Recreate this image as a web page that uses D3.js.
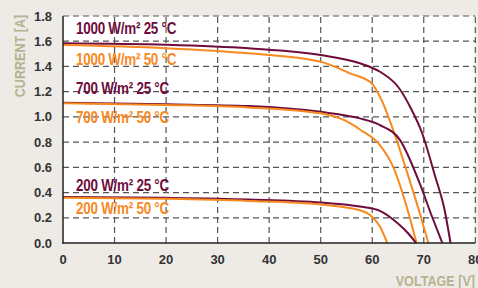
<!DOCTYPE html>
<html>
<head>
<meta charset="utf-8">
<script src="https://cdn.jsdelivr.net/npm/d3@7"></script>
<style>
  html, body { margin: 0; padding: 0; background: #eeebe7; }
  svg { display: block; }
</style>
</head>
<body>
<svg></svg>
<script>
const width = 478
const height = 288
const marge = {top: 16, right: 3, bottom: 45, left: 63}

// 数据：电压 [V] 与电流 [A]
const voltage_1000_25 = [0, 20, 36, 50, 57.6, 61.5, 65, 67.6, 69.6, 72.2, 74, 75.2]
const current_1000_25 = [1.584, 1.572, 1.544, 1.491, 1.425, 1.358, 1.239, 1.06, 0.88, 0.53, 0.27, 0]

const voltage_1000_50 = [0, 20, 36, 50, 55.7, 59.8, 61.8, 64.7, 67, 69.2, 70.9]
const current_1000_50 = [1.57, 1.545, 1.504, 1.438, 1.345, 1.27, 1.134, 0.82, 0.53, 0.24, 0]

const voltage_700_25 = [0, 20, 36, 50, 57.6, 61.5, 65.4, 69.2, 71.5, 73.6]
const current_700_25 = [1.112, 1.1, 1.086, 1.04, 0.988, 0.935, 0.816, 0.474, 0.22, 0]

const voltage_700_50 = [0, 20, 36, 50, 55.7, 57.6, 61.5, 64.1, 66.7, 68.6]
const current_700_50 = [1.108, 1.095, 1.075, 1.028, 0.95, 0.9, 0.776, 0.6, 0.286, 0]

const voltage_200_25 = [0, 20, 36, 50, 57.6, 61.5, 65, 67, 68.5]
const current_200_25 = [0.365, 0.358, 0.345, 0.321, 0.29, 0.255, 0.154, 0.075, 0]

const voltage_200_50 = [0, 20, 36, 50, 57.6, 59.8, 61.5, 62.9]
const current_200_50 = [0.358, 0.35, 0.333, 0.305, 0.26, 0.215, 0.13, 0]

const series = [
    {name: "1000 W/m² 25 °C", v: voltage_1000_25, i: current_1000_25, color: "#6e0d3c", labelI: 1.655},
    {name: "1000 W/m² 50 °C", v: voltage_1000_50, i: current_1000_50, color: "#f7891f", labelI: 1.412},
    {name: "700 W/m² 25 °C", v: voltage_700_25, i: current_700_25, color: "#6e0d3c", labelI: 1.18},
    {name: "700 W/m² 50 °C", v: voltage_700_50, i: current_700_50, color: "#f7891f", labelI: 0.948},
    {name: "200 W/m² 25 °C", v: voltage_200_25, i: current_200_25, color: "#6e0d3c", labelI: 0.413},
    {name: "200 W/m² 50 °C", v: voltage_200_50, i: current_200_50, color: "#f7891f", labelI: 0.227}
]

const xTicks = [0, 10, 20, 30, 40, 50, 60, 70, 80]
const yTicks = [0, 0.2, 0.4, 0.6, 0.8, 1.0, 1.2, 1.4, 1.6, 1.8]

const svg = d3.select('svg').attr('width', width).attr('height', height)

const x = d3.scaleLinear().domain([0, 80]).range([marge.left, width - marge.right + 0.3])
const y = d3.scaleLinear().domain([0, 1.8]).range([height - marge.bottom, marge.top])

// 绘图区背景
svg.append('rect')
    .attr('x', x(0)).attr('y', y(1.8))
    .attr('width', x(80) - x(0)).attr('height', y(0) - y(1.8))
    .attr('fill', '#ffffff')

// 网格
const grid = svg.append('g')
grid.selectAll('.hgrid').data(yTicks.filter(d => d > 0)).enter().append('line')
    .attr('x1', x(0)).attr('x2', x(80))
    .attr('y1', d => y(d)).attr('y2', d => y(d))
    .attr('stroke', '#555').attr('stroke-width', 1.2).attr('stroke-dasharray', '6,4')
grid.selectAll('.vgrid').data(xTicks.filter(d => d > 0)).enter().append('line')
    .attr('x1', d => x(d)).attr('x2', d => x(d))
    .attr('y1', y(0)).attr('y2', y(1.8))
    .attr('stroke', '#555').attr('stroke-width', 1.2).attr('stroke-dasharray', '6,4')

// 曲线
const line = d3.line()
    .x(d => x(d[0]))
    .y(d => y(d[1]))
    .curve(d3.curveMonotoneX)

svg.append('g').selectAll('path').data(series).enter().append('path')
    .attr('d', d => line(d.v.map((v, k) => [v, d.i[k]])))
    .attr('fill', 'none')
    .attr('stroke', d => d.color)
    .attr('stroke-width', 2)

// 曲线标签（窄体效果：横向压缩）
svg.append('g').selectAll('text').data(series).enter().append('text')
    .attr('transform', d => 'translate(' + (x(0) + 13) + ',' + y(d.labelI) + ') scale(0.84,1)')
    .attr('fill', d => d.color)
    .style('font-family', '"Liberation Sans", Arial, sans-serif')
    .style('font-weight', 'bold')
    .style('font-size', '16px')
    .style('letter-spacing', '-0.3px')
    .text(d => d.name)

// 坐标轴
svg.append('line')
    .attr('x1', x(0)).attr('x2', x(0)).attr('y1', y(0) + 0.5).attr('y2', y(1.8))
    .attr('stroke', '#222').attr('stroke-width', 1.5)
svg.append('line')
    .attr('x1', x(0) - 0.7).attr('x2', x(80)).attr('y1', y(0)).attr('y2', y(0))
    .attr('stroke', '#222').attr('stroke-width', 1.5)

const tickFont = 'Liberation Sans, Arial, sans-serif'

svg.append('g').selectAll('text').data(yTicks).enter().append('text')
    .attr('x', 52)
    .attr('y', d => y(d) + 4.5)
    .attr('text-anchor', 'end')
    .attr('fill', '#333')
    .style('font-family', tickFont)
    .style('font-weight', 'bold')
    .style('font-size', '13px')
    .text(d => d3.format('.1f')(d))

svg.append('g').selectAll('text').data(xTicks).enter().append('text')
    .attr('x', d => x(d))
    .attr('y', 263.5)
    .attr('text-anchor', 'middle')
    .attr('fill', '#333')
    .style('font-family', tickFont)
    .style('font-weight', 'bold')
    .style('font-size', '13px')
    .text(d => d)

// 坐标轴标题
svg.append('text')
    .attr('transform', 'translate(25,56) rotate(-90) scale(0.84,1)')
    .attr('text-anchor', 'middle')
    .attr('fill', '#b7b38f')
    .style('font-family', '"Liberation Sans", Arial, sans-serif')
    .style('font-weight', 'bold')
    .style('font-size', '15px')
    .text('CURRENT [A]')

svg.append('text')
    .attr('transform', 'translate(475,285.7) scale(0.84,1)')
    .attr('text-anchor', 'end')
    .attr('fill', '#b7b38f')
    .style('font-family', '"Liberation Sans", Arial, sans-serif')
    .style('font-weight', 'bold')
    .style('font-size', '15px')
    .text('VOLTAGE [V]')
</script>
</body>
</html>
